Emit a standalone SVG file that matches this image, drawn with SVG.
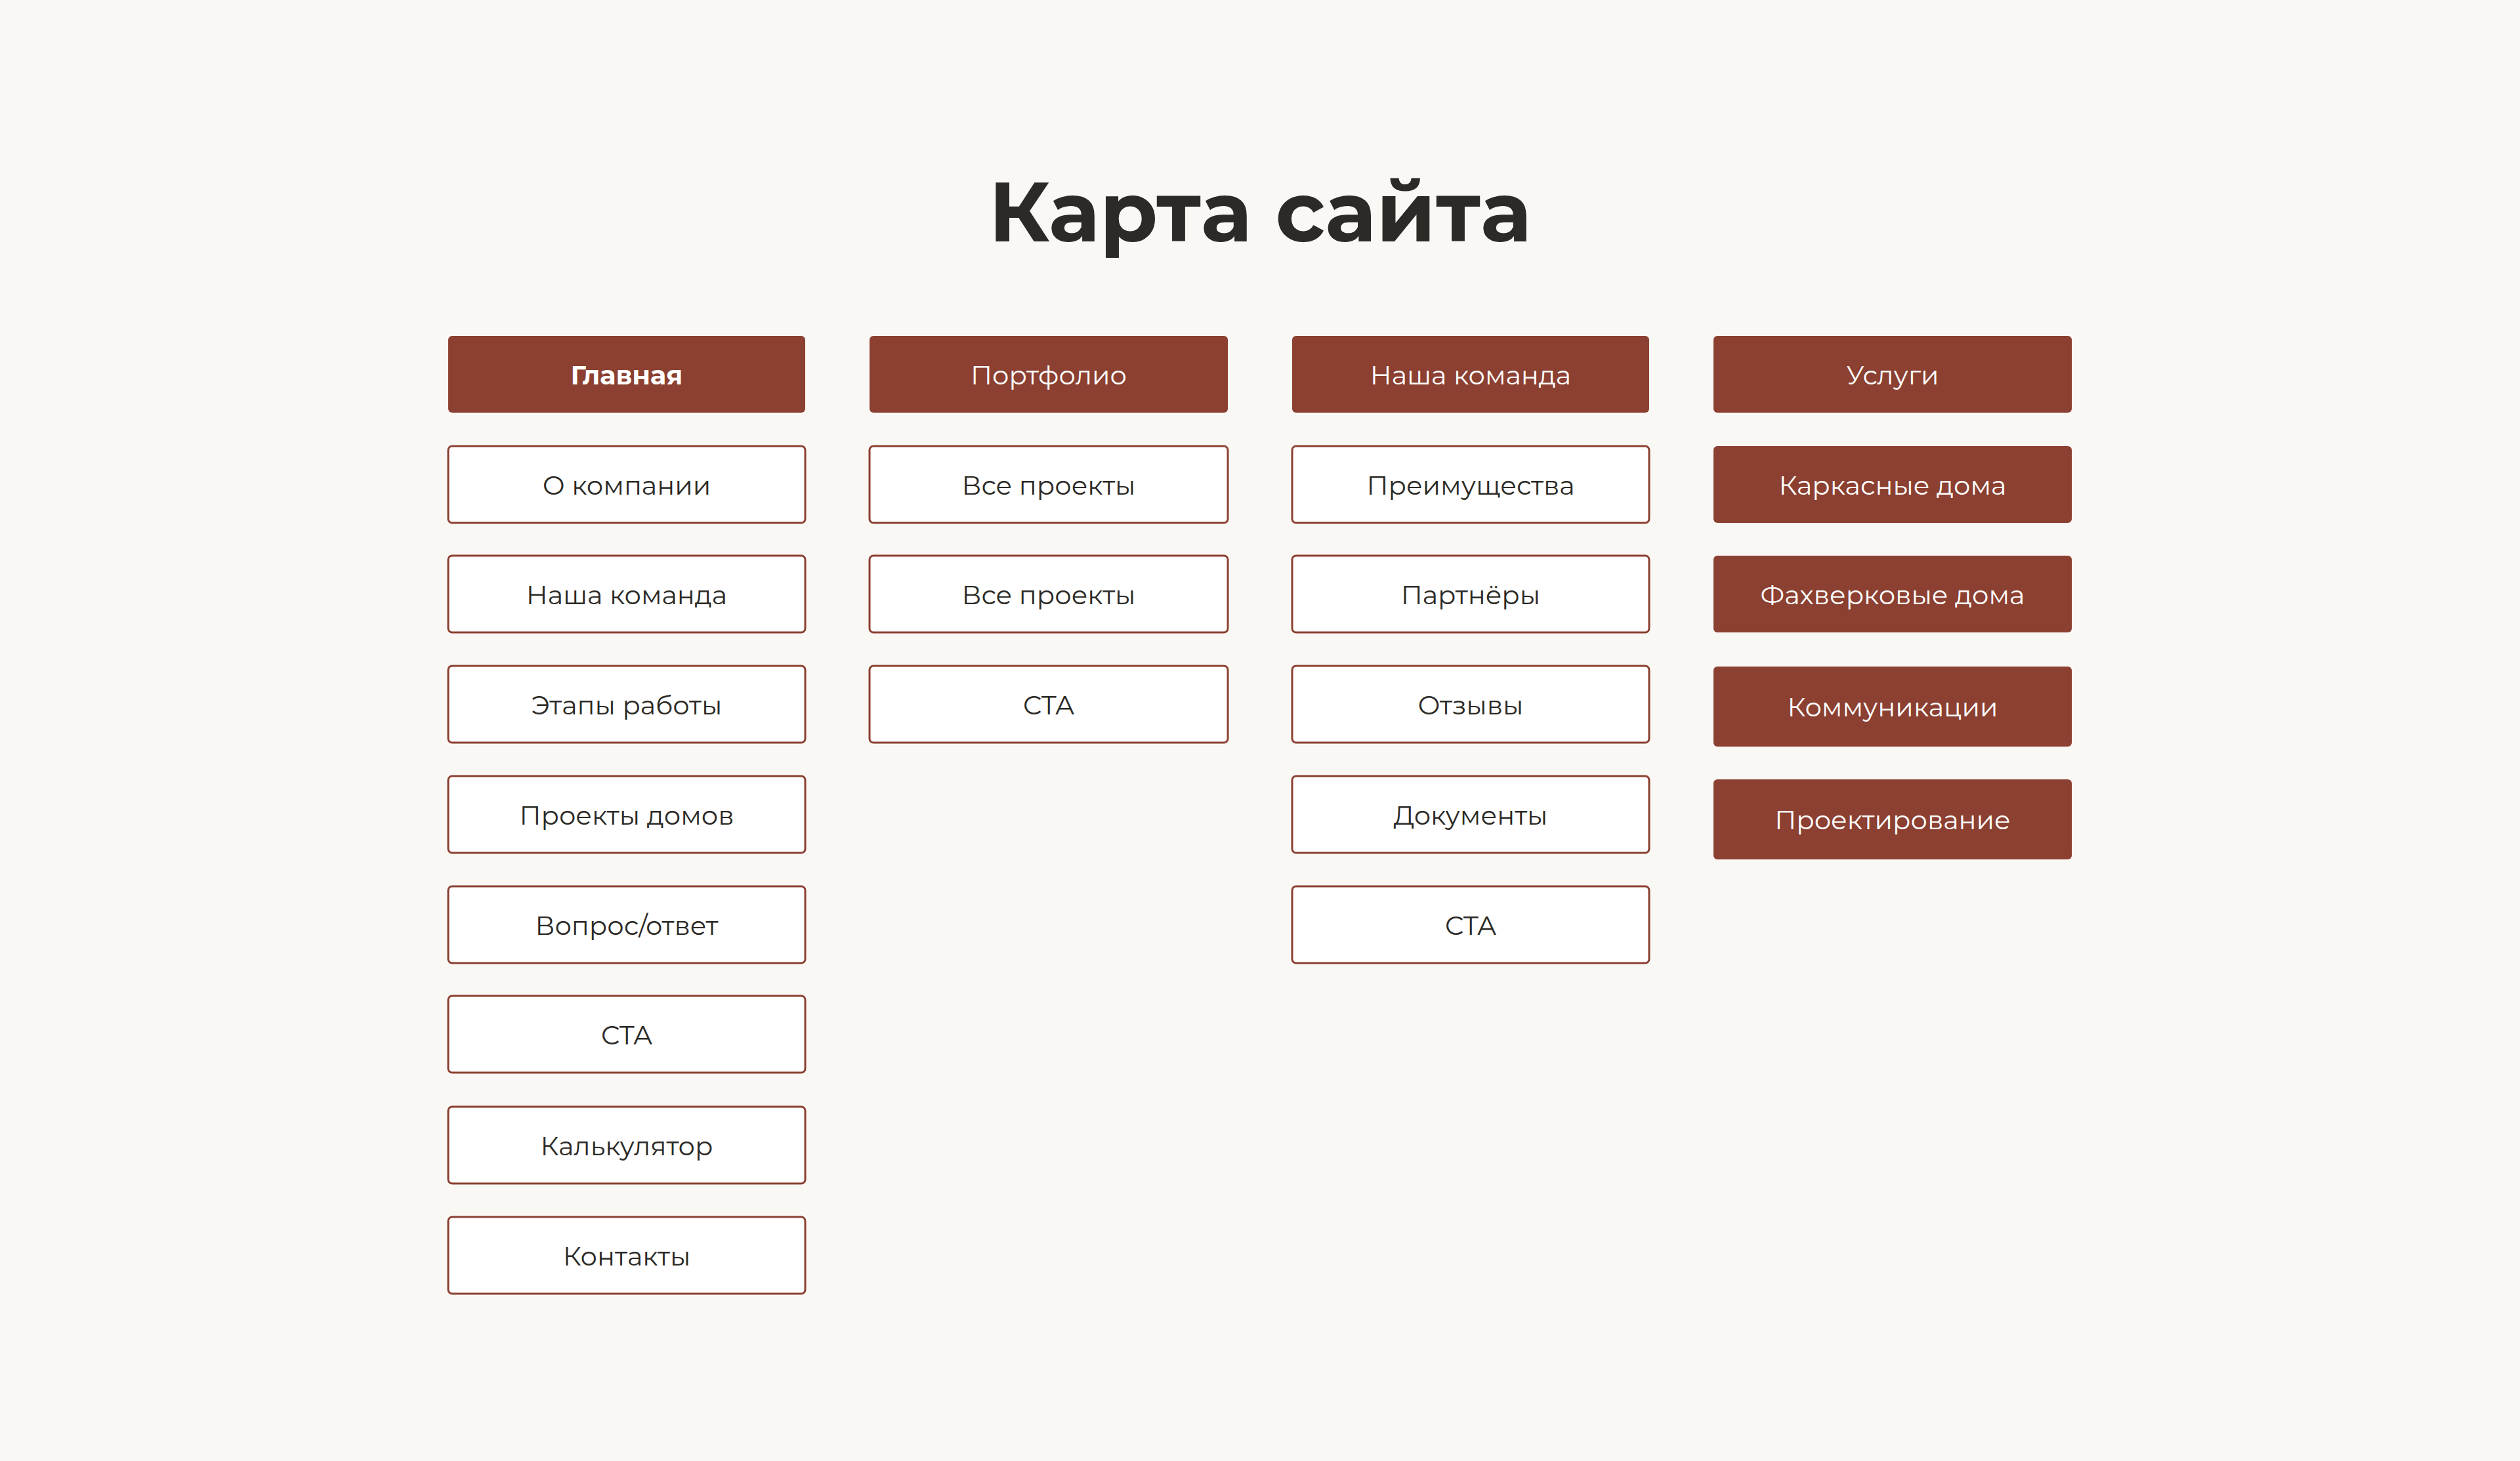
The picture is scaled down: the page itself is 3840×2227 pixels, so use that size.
<svg xmlns="http://www.w3.org/2000/svg" width="3840" height="2227" viewBox="0 0 3840 2227">
<style>
.b rect{fill:#fff;stroke:#8b4031;stroke-width:3}
.f rect{fill:#8b4031;stroke:none}
text{font-family:Montserrat,"Noto Sans","DejaVu Sans",sans-serif;font-size:40px;text-anchor:middle;dominant-baseline:central}
.b text{fill:#2b2a26}
.f text{fill:#fff}
</style>
<rect width="3840" height="2227" fill="#faf8f5"/>
<text x="1920" y="322" style="font-size:128px;font-weight:bold;fill:#2b2a26">Карта сайта</text>
<g id="c1h" class="f"><rect x="683" y="512" width="544" height="117" rx="6"/><text x="955" y="571" font-weight="bold">Главная</text></g>
<g id="c1r1" class="b"><rect x="683" y="680" width="544" height="117" rx="6"/><text x="955" y="739">О компании</text></g>
<g id="c1r2" class="b"><rect x="683" y="847" width="544" height="117" rx="6"/><text x="955" y="906">Наша команда</text></g>
<g id="c1r3" class="b"><rect x="683" y="1015" width="544" height="117" rx="6"/><text x="955" y="1074">Этапы работы</text></g>
<g id="c1r4" class="b"><rect x="683" y="1183" width="544" height="117" rx="6"/><text x="955" y="1242">Проекты домов</text></g>
<g id="c1r5" class="b"><rect x="683" y="1351" width="544" height="117" rx="6"/><text x="955" y="1410">Вопрос/ответ</text></g>
<g id="c1r6" class="b"><rect x="683" y="1518" width="544" height="117" rx="6"/><text x="955" y="1577">CTA</text></g>
<g id="c1r7" class="b"><rect x="683" y="1687" width="544" height="117" rx="6"/><text x="955" y="1746">Калькулятор</text></g>
<g id="c1r8" class="b"><rect x="683" y="1855" width="544" height="117" rx="6"/><text x="955" y="1914">Контакты</text></g>
<g id="c2h" class="f"><rect x="1325" y="512" width="546" height="117" rx="6"/><text x="1598" y="571">Портфолио</text></g>
<g id="c2r1" class="b"><rect x="1325" y="680" width="546" height="117" rx="6"/><text x="1598" y="739">Все проекты</text></g>
<g id="c2r2" class="b"><rect x="1325" y="847" width="546" height="117" rx="6"/><text x="1598" y="906">Все проекты</text></g>
<g id="c2r3" class="b"><rect x="1325" y="1015" width="546" height="117" rx="6"/><text x="1598" y="1074">CTA</text></g>
<g id="c3h" class="f"><rect x="1969" y="512" width="544" height="117" rx="6"/><text x="2241" y="571">Наша команда</text></g>
<g id="c3r1" class="b"><rect x="1969" y="680" width="544" height="117" rx="6"/><text x="2241" y="739">Преимущества</text></g>
<g id="c3r2" class="b"><rect x="1969" y="847" width="544" height="117" rx="6"/><text x="2241" y="906">Партнёры</text></g>
<g id="c3r3" class="b"><rect x="1969" y="1015" width="544" height="117" rx="6"/><text x="2241" y="1074">Отзывы</text></g>
<g id="c3r4" class="b"><rect x="1969" y="1183" width="544" height="117" rx="6"/><text x="2241" y="1242">Документы</text></g>
<g id="c3r5" class="b"><rect x="1969" y="1351" width="544" height="117" rx="6"/><text x="2241" y="1410">CTA</text></g>
<g id="c4h" class="f"><rect x="2611" y="512" width="546" height="117" rx="6"/><text x="2884" y="571">Услуги</text></g>
<g id="c4r1" class="f"><rect x="2611" y="680" width="546" height="117" rx="6"/><text x="2884" y="739">Каркасные дома</text></g>
<g id="c4r2" class="f"><rect x="2611" y="847" width="546" height="117" rx="6"/><text x="2884" y="906">Фахверковые дома</text></g>
<g id="c4r3" class="f"><rect x="2611" y="1016" width="546" height="122" rx="6"/><text x="2884" y="1077">Коммуникации</text></g>
<g id="c4r4" class="f"><rect x="2611" y="1188" width="546" height="122" rx="6"/><text x="2884" y="1249">Проектирование</text></g>
<g id="connectors"/>
</svg>
